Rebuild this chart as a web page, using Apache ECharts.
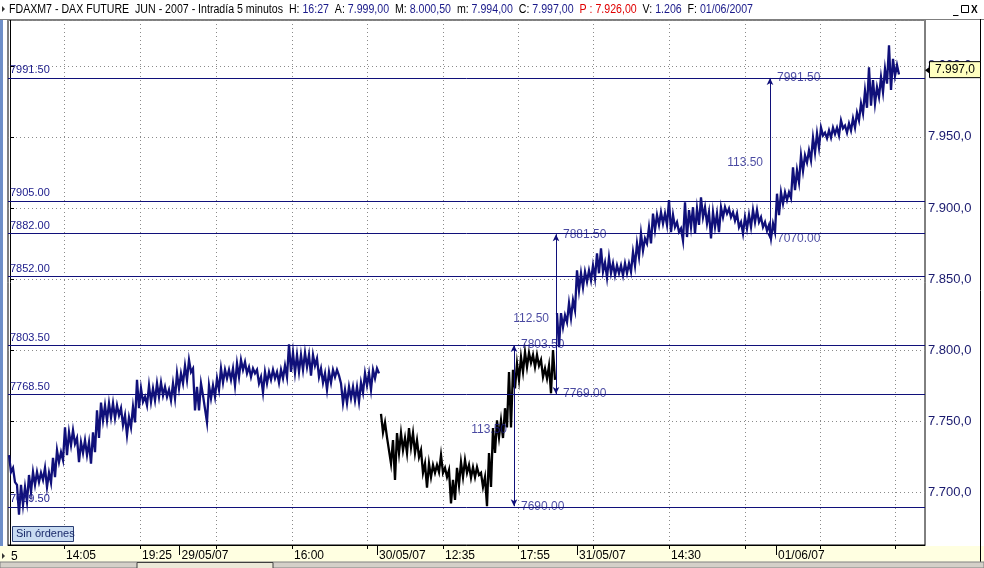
<!DOCTYPE html>
<html>
<head>
<meta charset="utf-8">
<script src="https://cdn.jsdelivr.net/npm/echarts@6/dist/echarts.min.js"></script>
<style>
  html, body { margin: 0; padding: 0; background: #fff; }
  #chart { width: 984px; height: 568px; }
</style>
</head>
<body>
<div id="chart"></div>
<script>
// máximos y mínimos, un tramo cada 4 px (índice = posición en el eje x)
const highs = [
  7726, 7717, 7705, 7705, 7703.5, 7712, 7714, 7714, 7713.5, 7717,
  7713.5, 7724, 7729.5, 7728, 7745.5, 7742, 7743.5, 7738, 7735, 7736.5,
  7735, 7742, 7757.5, 7763, 7761, 7762.5, 7762.5, 7761, 7759, 7754,
  7752.5, 7760, 7779, 7773, 7767, 7775, 7773, 7776.5, 7777, 7774,
  7772, 7776.5, 7783.5, 7783.5, 7789, 7793, 7787, 7774, 7776.5, 7768,
  7775, 7775, 7780, 7787, 7786, 7786, 7787, 7790.5, 7793, 7791.5,
  7788, 7787, 7786, 7781, 7784.5, 7784.5, 7786, 7784.5, 7786, 7789,
  7804, 7798, 7796.5, 7796.5, 7798, 7796.5, 7796.5, 7794, 7787, 7783.5,
  7784.5, 7786, 7786, 7776.5, 7772, 7774, 7774, 7774, 7777, 7783.5,
  7783.5, 7786, 7787, 7755, 7749, 7738.5, 7736.5, 7741.5, 7741.5, 7738,
  7745, 7741.5, 7736.5, 7729.5, 7720, 7720, 7719, 7719, 7726, 7717,
  7715.5, 7708.5, 7717, 7721, 7722.5, 7719, 7717.5, 7717.5, 7713.5, 7710.5,
  7727.5, 7745, 7750.5, 7750.5, 7759, 7784.5, 7786, 7790.5, 7795, 7798.5,
  7798, 7796.5, 7796.5, 7793, 7787, 7789, 7800, 7826, 7826, 7824.5,
  7833, 7835, 7856, 7854, 7855, 7856, 7859.5, 7868, 7871.5, 7861.5,
  7865, 7861, 7859.5, 7859.5, 7861, 7861, 7869, 7875, 7882, 7878.5,
  7886.5, 7896, 7895, 7897, 7896, 7905.5, 7895, 7890, 7885.5, 7904,
  7898.5, 7900.5, 7899.5, 7907.5, 7900.5, 7897, 7897, 7896, 7900.5, 7900.5,
  7899.5, 7897, 7896, 7890, 7893.5, 7895, 7898.5, 7898.5, 7893.5, 7890,
  7888, 7889, 7910, 7911, 7911, 7911, 7928.5, 7926.5, 7937, 7937,
  7940.5, 7949.5, 7952.5, 7956.5, 7953, 7954.5, 7956.5, 7956.5, 7961.5, 7958,
  7959.5, 7963, 7967, 7973.5, 7982.5, 7999, 7990, 7985, 7992, 7998,
  8014.5, 8005, 8000.5
];
const lows = [
  7714, 7707, 7684, 7691, 7693, 7700, 7705, 7707, 7708.5, 7703.5,
  7706.5, 7710.5, 7721, 7722.5, 7726, 7733, 7734, 7721, 7727.5, 7726,
  7720, 7728, 7738, 7750.5, 7750.5, 7752.5, 7752, 7754, 7747, 7740,
  7745.5, 7749, 7759, 7763.5, 7761, 7763.5, 7764.5, 7767, 7768, 7767,
  7764.5, 7766, 7773, 7776.5, 7779, 7784.5, 7757.5, 7757.5, 7768, 7749,
  7766, 7767, 7772, 7777, 7780, 7779, 7775, 7781, 7786, 7783.5,
  7781, 7783.5, 7776.5, 7770, 7776.5, 7779, 7780, 7777, 7780, 7781,
  7784.5, 7784, 7784.5, 7786, 7788, 7782, 7789, 7781, 7777, 7772,
  7777, 7781, 7782, 7762.5, 7762.5, 7766, 7764.5, 7763.5, 7770, 7775,
  7772, 7780, 7783.5, 7742, 7738.5, 7720, 7708.5, 7727.5, 7729.5, 7727.5,
  7731.5, 7727.5, 7724.5, 7713.5, 7703, 7710.5, 7713.5, 7714, 7713.5, 7710.5,
  7692, 7694.5, 7705, 7710.5, 7713.5, 7710, 7710.5, 7712, 7703.5, 7690,
  7703.5, 7727.5, 7738.5, 7738, 7745.5, 7745.5, 7773, 7779, 7784.5, 7788,
  7791, 7788, 7789, 7781, 7780, 7769.5, 7779, 7802, 7816, 7819.5,
  7822.5, 7828, 7842, 7844, 7848, 7849, 7850.5, 7854, 7855, 7851,
  7854, 7852.5, 7854, 7852.5, 7854, 7855, 7859.5, 7865.5, 7870, 7875,
  7875, 7884.5, 7888, 7889, 7888, 7883, 7886.5, 7883, 7877, 7879.5,
  7886.5, 7882, 7888, 7893.5, 7889, 7878.5, 7886.5, 7883, 7893.5, 7896,
  7893.5, 7891, 7886.5, 7882, 7885.5, 7886.5, 7890, 7890, 7886.5, 7884,
  7878.5, 7883, 7895, 7903, 7905.5, 7907, 7912.5, 7918, 7926, 7932,
  7933.5, 7939, 7942.5, 7951, 7949, 7949.5, 7952, 7951, 7956, 7953,
  7954.5, 7956.5, 7961.5, 7966.5, 7970.5, 7972, 7973.5, 7978, 7981.5, 7987.5,
  7983, 7993, 7994
];
// sesión del 30/05 pintada en negro
const blackFrom = 93;
const blackTo = 136;

// niveles horizontales dibujados a mano en el gráfico
const levels = [7991.5, 7905, 7882, 7852, 7803.5, 7768.5, 7689.5];
const levelLabels = ['7991.50', '7905.00', '7882.00', '7852.00', '7803.50', '7768.50', '7689.50'];

// mediciones con flecha
const measureX = [126, 136.5, 190];
const measureFrom = [7690, 7769, 7878];
const measureTo = [7803.5, 7881.5, 7991.5];
const fromLabels = ['7690.00', '7769.00', '7070.00'];
const toLabels = ['7803.50', '7881.50', '7991.50'];
const diffLabels = ['113.50', '112.50', '113.50'];

// eje de tiempo
const gridXs = [13.5, 32.5, 51.5, 70.5, 89.25, 108.25, 127, 145.75, 164.75, 183.75, 202.5, 221.25];
const timeXs = [13.5, 32.5, 70.5, 108.25, 127, 164.75];
const timeLabels = ['14:05', '19:25', '16:00', '12:35', '17:55', '14:30'];
const dateXs = [42.4, 91.75, 141.75, 191.5];
const dateLabels = ['29/05/07', '30/05/07', '31/05/07', '01/06/07'];

const lastClose = 7997;
const titleParts = [
  ['FDAXM7 - DAX FUTURE  JUN - 2007 - Intradía 5 minutos  H: ', 'k'], ['16:27', 'v'],
  ['  A: ', 'k'], ['7.999,00', 'v'], ['  M: ', 'k'], ['8.000,50', 'v'],
  ['  m: ', 'k'], ['7.994,00', 'v'], ['  C: ', 'k'], ['7.997,00', 'v'],
  ['  ', 'k'], ['P : 7.926,00', 'r'], ['  V: ', 'k'], ['1.206', 'v'],
  ['  F: ', 'k'], ['01/06/2007', 'v']
];

const NAVY = '#10107a';
const xMin = -0.5, xMax = 228.75;
const yMin = 7662.7, yMax = 8032.3;

const fmtPrice = v => {
  const s = v.toFixed(1).split('.');
  return s[0].replace(/\B(?=(\d{3})+(?!\d))/g, '.') + ',' + s[1];
};

// cada tramo se traza de su máximo a su mínimo, como barras muy juntas
const zigzag = (from, to) => {
  const pts = [];
  for (let i = from; i <= to; i++) {
    pts.push([i - 0.25, highs[i]]);
    pts.push([i + 0.25, lows[i]]);
  }
  return pts;
};

const priceLine = (name, data, color) => ({
  name, type: 'line', xAxisIndex: 0, yAxisIndex: 0, z: 3, silent: true,
  data, symbol: 'none', showSymbol: false,
  lineStyle: { color, width: 2.3, join: 'miter' }
});

const textMarks = [];
measureX.forEach((x, i) => {
  textMarks.push({ value: [x, measureFrom[i]], label: { formatter: fromLabels[i], position: 'right' } });
  textMarks.push({ value: [x, measureTo[i]], label: { formatter: toLabels[i], position: 'right' } });
  textMarks.push({ value: [x, (measureFrom[i] + measureTo[i]) / 2 - 3], label: { formatter: diffLabels[i], position: 'left' } });
});

const chart = echarts.init(document.getElementById('chart'));

const gridRect = { left: 8, right: 59, top: 20, bottom: 23 };
const FONT = '"Liberation Sans", Arial, sans-serif';

chart.setOption({
  animation: false,
  backgroundColor: '#fff',
  grid: [
    Object.assign({ show: true, borderColor: '#000', borderWidth: 1, backgroundColor: '#fff' }, gridRect),
    Object.assign({ show: false }, gridRect)
  ],
  xAxis: [
    {
      type: 'value', gridIndex: 0, min: xMin, max: xMax,
      axisLine: { show: true, lineStyle: { color: '#000', width: 1 } },
      axisTick: { show: true, length: 10, customValues: dateXs, lineStyle: { color: '#000' } },
      axisLabel: {
        show: true, customValues: dateXs, align: 'left', margin: 5, padding: [0, 0, 0, 2],
        fontFamily: FONT, fontSize: 12, color: '#000',
        formatter: v => dateLabels[dateXs.indexOf(v)] || ''
      },
      splitLine: { show: false }
    },
    {
      type: 'value', gridIndex: 1, min: xMin, max: xMax,
      axisLine: { show: false },
      axisTick: { show: true, length: 4, customValues: gridXs, lineStyle: { color: '#000' } },
      axisLabel: {
        show: true, customValues: timeXs, align: 'left', margin: 5, padding: [0, 0, 0, 2],
        fontFamily: FONT, fontSize: 12, color: '#000',
        formatter: v => timeLabels[timeXs.indexOf(v)] || ''
      },
      splitLine: { show: true, lineStyle: { color: '#8a8a8a', width: 1, type: [1, 3] } }
    }
  ],
  yAxis: [
    {
      type: 'value', gridIndex: 0, position: 'right', min: yMin, max: yMax,
      splitNumber: 7, minInterval: 50, maxInterval: 50,
      axisLine: { show: true, lineStyle: { color: '#000' } },
      axisTick: { show: true, length: 4, inside: false, lineStyle: { color: '#000' } },
      axisLabel: {
        fontFamily: FONT, fontSize: 13, color: '#1a1a6e', margin: 3,
        showMinLabel: false, showMaxLabel: false, formatter: fmtPrice
      },
      splitLine: { show: true, lineStyle: { color: '#8a8a8a', width: 1, type: [1, 3] } }
    },
    { type: 'value', gridIndex: 1, min: yMin, max: yMax, show: false }
  ],
  series: [
    {
      type: 'line', xAxisIndex: 0, yAxisIndex: 0, data: [], z: 1, silent: true,
      markLine: {
        silent: true, symbol: 'none', animation: false,
        lineStyle: { color: NAVY, width: 1, type: 'solid' },
        label: { position: 'insideStartTop', distance: 2, color: '#1a1a8a', fontFamily: FONT, fontSize: 11 },
        data: levels.map((v, i) => ({ yAxis: v, label: { formatter: levelLabels[i] } }))
      }
    },
    {
      type: 'line', xAxisIndex: 0, yAxisIndex: 0, data: [], z: 2, silent: true,
      markLine: {
        silent: true, symbol: ['arrow', 'arrow'], symbolSize: [5, 7], animation: false,
        lineStyle: { color: NAVY, width: 1, type: 'solid' },
        label: { show: false },
        data: measureX.map((x, i) => [{ coord: [x, measureFrom[i]] }, { coord: [x, measureTo[i]] }])
      }
    },
    priceLine('28/05 - 29/05', zigzag(0, blackFrom - 1), NAVY),
    priceLine('30/05', zigzag(blackFrom, blackTo), '#000'),
    priceLine('31/05 - 01/06', zigzag(blackTo + 1, highs.length - 1), NAVY),
    {
      type: 'scatter', xAxisIndex: 0, yAxisIndex: 0, z: 4, symbolSize: 0, silent: true,
      data: textMarks,
      label: { show: true, distance: 7, color: '#1c1c8a', fontFamily: FONT, fontSize: 12 }
    }
  ]
});

// título con ancho estrecho como en la captura
const titleText = titleParts.map(p => p[0]).join('');
const ctx = document.createElement('canvas').getContext('2d');
ctx.font = '12px "Liberation Sans"';
const titleScale = 744 / ctx.measureText(titleText).width;

const tagY = chart.convertToPixel({ yAxisIndex: 0 }, lastClose);

chart.setOption({
  graphic: [
    // barra de título
    { type: 'rect', z: -5, shape: { x: 0, y: 0, width: 984, height: 19 }, style: { fill: '#fff' } },
    { type: 'line', z: 5, shape: { x1: 0, y1: 19.5, x2: 984, y2: 19.5 }, style: { stroke: '#7f7f7f', lineWidth: 1 } },
    { type: 'polygon', z: 5, shape: { points: [[2, 6], [5, 9], [2, 12]] }, style: { fill: '#333' } },
    {
      type: 'text', z: 5, x: 9, y: 10, scaleX: titleScale,
      style: {
        text: titleParts.map(p => '{' + p[1] + '|' + p[0] + '}').join(''),
        font: '12px "Liberation Sans"', verticalAlign: 'middle',
        rich: {
          k: { fill: '#000', font: '12px "Liberation Sans"' },
          v: { fill: '#1a1a8a', font: '12px "Liberation Sans"' },
          r: { fill: '#e00000', font: '12px "Liberation Sans"' }
        }
      }
    },
    { type: 'text', z: 5, x: 953, y: 10, style: { text: '_', font: 'bold 11px "DejaVu Sans"', fill: '#000', verticalAlign: 'middle' } },
    { type: 'rect', z: 5, shape: { x: 961.5, y: 5.5, width: 7, height: 7 }, style: { fill: 'none', stroke: '#000', lineWidth: 1 } },
    { type: 'text', z: 5, x: 971, y: 10, style: { text: 'X', font: 'bold 10px "Liberation Sans"', fill: '#000', verticalAlign: 'middle' } },
    // marco izquierdo y derecho
    { type: 'rect', z: 5, shape: { x: 0, y: 20, width: 3, height: 526 }, style: { fill: '#6f8fc8' } },
    { type: 'line', z: 5, shape: { x1: 980.5, y1: 19, x2: 980.5, y2: 562 }, style: { stroke: '#000', lineWidth: 1 } },
    // franja del eje de tiempo
    { type: 'rect', z: -5, shape: { x: 0, y: 546, width: 984, height: 16 }, style: { fill: '#ffffe1' } },
    { type: 'polygon', z: 5, shape: { points: [[2, 553], [5, 556], [2, 559]] }, style: { fill: '#333' } },
    { type: 'text', z: 5, x: 11, y: 557, style: { text: '5', font: '12px "Liberation Sans"', fill: '#000', verticalAlign: 'middle' } },
    // barra de desplazamiento
    { type: 'rect', z: 5, shape: { x: 0, y: 562, width: 984, height: 6 }, style: { fill: '#d4d0c8', stroke: '#808080', lineWidth: 1 } },
    { type: 'rect', z: 6, shape: { x: 137, y: 562.5, width: 136, height: 6 }, style: { fill: '#ece9d8', stroke: '#404040', lineWidth: 1 } },
    // caja "Sin órdenes"
    { type: 'rect', z: 6, shape: { x: 12.5, y: 526.5, width: 61, height: 15 }, style: { fill: '#c9dcf2', stroke: '#2b3f74', lineWidth: 1 } },
    { type: 'text', z: 7, x: 16, y: 534, style: { text: 'Sin órdenes', font: '11px "Liberation Sans"', fill: '#1a2a6a', verticalAlign: 'middle' } },
    // etiqueta del último precio
    { type: 'polygon', z: 7, shape: { points: [[925, tagY], [929, tagY - 3], [929, tagY + 3]] }, style: { fill: '#000' } },
    { type: 'rect', z: 7, shape: { x: 929.5, y: tagY - 8.5, width: 51, height: 16 }, style: { fill: '#ffffc0', stroke: '#000', lineWidth: 1 } },
    { type: 'text', z: 8, x: 955, y: tagY, style: { text: fmtPrice(lastClose), font: '12px "Liberation Sans"', fill: '#000', align: 'center', verticalAlign: 'middle' } }
  ]
});
</script>
</body>
</html>
